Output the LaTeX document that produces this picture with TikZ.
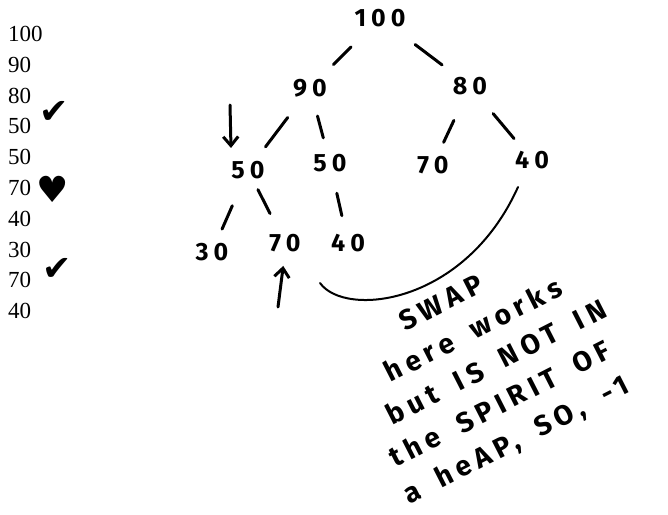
\documentclass[tikz,border=0pt]{standalone}
\usepackage{fontspec}
\setmainfont{Liberation Serif}
\newfontfamily\handfont[LetterSpace=20,WordSpace=1.7]{Fira Sans}
\newfontfamily\symfont{DejaVu Sans}
\usetikzlibrary{arrows.meta,positioning}

\begin{document}
\begin{tikzpicture}[
    x=1pt, y=-1pt,
    num/.style={inner sep=0pt, text height=15pt, text depth=0pt,
                font=\fontsize{23}{23}\selectfont},
    digit/.style={inner sep=0pt, font=\handfont\bfseries\fontsize{25}{25}\selectfont},
    chk/.style={inner sep=0pt, font=\symfont\fontsize{35}{35}\selectfont},
    handnote/.style={inner sep=0pt, rotate=27, anchor=base west, align=left,
                font=\handfont\bfseries\fontsize{28}{39}\selectfont},
    stroke/.style={line width=3pt, line cap=round},
    arr/.style={-{Straight Barb[length=9pt, width=15pt]}, line width=3pt,
                line cap=round},
    swapline/.style={line width=2pt, line cap=round}
]
\useasboundingbox (0,0) rectangle (668,514);

% array as printed
\node[num, anchor=west] (r1) at (8,34) {100};
\node[num, below=15.4pt of r1.south west, anchor=north west] (r2) {90};
\node[num, below=15.4pt of r2.south west, anchor=north west] (r3) {80};
\node[num, below=15.4pt of r3.south west, anchor=north west] (r4) {50};
\node[num, below=15.4pt of r4.south west, anchor=north west] (r5) {50};
\node[num, below=15.4pt of r5.south west, anchor=north west] (r6) {70};
\node[num, below=15.4pt of r6.south west, anchor=north west] (r7) {40};
\node[num, below=15.4pt of r7.south west, anchor=north west] (r8) {30};
\node[num, below=15.4pt of r8.south west, anchor=north west] (r9) {70};
\node[num, below=15.4pt of r9.south west, anchor=north west] (r10) {40};

\node[chk] (tickA) at (54,112) {✔};
\node[chk, font=\symfont\fontsize{36}{36}\selectfont] (blob) at (53,189) {♥};
\node[chk] (tickB) at (57,269) {✔};

% the heap as a tree
\node[digit] (n100) at (380,18) {100};
\node[digit] (n90) at (310,88) {90};
\node[digit] (n80) at (470,86) {80};
\node[digit] (n50a) at (248,170) {50};
\node[digit] (n50b) at (330,163) {50};
\node[digit] (n70a) at (433,165) {70};
\node[digit] (n40a) at (532,160) {40};
\node[digit] (n30) at (212,252) {30};
\node[digit] (n70b) at (285,243) {70};
\node[digit] (n40b) at (348,243) {40};

\draw[stroke, shorten <=41pt, shorten >=33pt] (n100.center) -- (n90.center);
\draw[stroke, shorten <=44pt, shorten >=35pt] (n100.center) -- (n80.center);
\draw[stroke, shorten <=37pt, shorten >=29pt] (n90.center) -- (n50a.center);
\draw[stroke, shorten <=29pt, shorten >=26pt] (n90.center) -- (n50b.center);
\draw[stroke, shorten <=38pt, shorten >=25pt] (n80.center) -- (n70a.center);
\draw[stroke, shorten <=36pt, shorten >=28pt] (n80.center) -- (n40a.center);
\draw[stroke, shorten <=39pt, shorten >=25pt] (n50a.center) -- (n30.center);
\draw[stroke, shorten <=22pt, shorten >=33pt] (n50a.center) -- (n70b.center);
\draw[stroke, shorten <=31pt, shorten >=28pt] (n50b.center) -- (n40b.center);

% pointers
\coordinate (downtail) at (230,105);
\coordinate (uptail) at (278,307);
\draw[arr, shorten >=13pt] (downtail) -- (n50a.north west);
\draw[arr, shorten >=14pt] (uptail) -- (n70b.south);

% swap link
\coordinate (swapL) at ([shift={(35,40)}]n70b);
\coordinate (swapR) at ([shift={(-14,27)}]n40a);
\draw[swapline] (swapL) .. controls +(25,35) and +(-53,118) .. (swapR);

\node[handnote] (swapnote) at (409,505)
    {\hspace*{75pt}SWAP\\ \hspace*{39pt}here works\\ \hspace*{21pt}but IS NOT IN\\
     \hspace*{5pt}the SPIRIT OF\\ a heAP, SO, -1};

\end{tikzpicture}
\end{document}
